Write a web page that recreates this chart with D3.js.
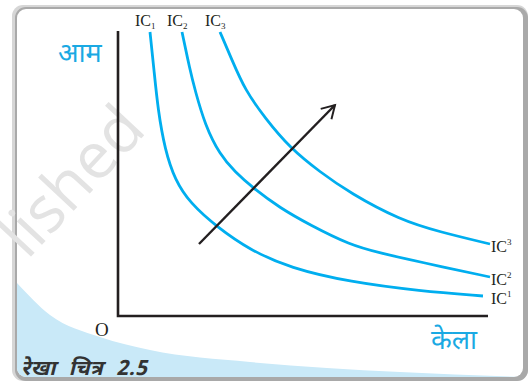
<!DOCTYPE html>
<html><head><meta charset="utf-8">
<script src="https://cdn.jsdelivr.net/npm/d3@7"></script>
<style>body{margin:0;background:#fff}svg{display:block}</style>
</head><body>
<svg id="c" width="531" height="382"></svg>
<script>
// Indifference curves (x = केला units, y = आम units)
const ic1 = [[32,284],[36,246],[40,206],[47,166],[57,136],[72,113],[99,89],[132,66],[172,48],[232,34],[302,25],[365,20]];
const ic2 = [[64,284],[72,246],[77,226],[87,191],[102,161],[117,144],[135,128],[162,108],[192,91],[232,71],[262,63],[302,54],[372,39]];
const ic3 = [[102,284],[114,256],[127,226],[147,198],[172,168],[202,144],[232,123],[282,96],[322,84],[372,72]];
const arrowPts = [[81,72],[217,211]];
const curveNames = ["1","2","3"];
const yLabel = "आम";
const xLabel = "केला";
const originLabel = "O";
const caption = "रेखा चित्र 2.5";
const watermark = "lished";

const svg = d3.select("#c");
const x = d3.scaleLinear().domain([0,370]).range([118,488]);
const y = d3.scaleLinear().domain([0,285]).range([316,31]);

const defs = svg.append("defs");
defs.append("clipPath").attr("id","inner")
  .append("rect").attr("x",17).attr("y",9).attr("width",506).attr("height",368).attr("rx",9);
defs.append("marker").attr("id","ah").attr("viewBox","0 0 12 12").attr("refX",10).attr("refY",6)
  .attr("markerWidth",7.5).attr("markerHeight",7.5).attr("orient","auto").attr("markerUnits","strokeWidth")
  .append("path").attr("d","M1.5,1 L10,6 L1.5,11").attr("fill","none").attr("stroke","#231f20").attr("stroke-width",1.3);

// frame
svg.append("rect").attr("x",12).attr("y",5).attr("width",516).attr("height",376).attr("rx",11).attr("fill","#d6d6d6");
svg.append("rect").attr("x",15).attr("y",7).attr("width",513).attr("height",374).attr("rx",11).attr("fill","#a9a9a9");
svg.append("rect").attr("x",17).attr("y",9).attr("width",506).attr("height",368).attr("rx",9).attr("fill","#fff");

// light blue corner
const g = svg.append("g").attr("clip-path","url(#inner)");
const bluePts = [[17,283],[50,315],[100,337],[150,350],[250,362],[400,372],[523,377]];
g.append("path")
  .attr("d", d3.line().curve(d3.curveMonotoneX)(bluePts) + " L523,390 L10,390 Z")
  .attr("fill","#c9e9f8");

// watermark
svg.append("text").attr("transform","translate(148,131) rotate(-47)")
  .attr("text-anchor","end").attr("font-family","'Open Sans', Lato, sans-serif")
  .attr("font-size",64).attr("fill","#e3e3e3").text(watermark);

// curves
const line = d3.line().x(d=>x(d[0])).y(d=>y(d[1])).curve(d3.curveBasis);
[ic1,ic2,ic3].forEach(c=>{
  svg.append("path").attr("d",line(c)).attr("fill","none").attr("stroke","#00aeef").attr("stroke-width",2.8);
});

// axes
svg.append("path").attr("d",`M${x(0)},${y(285)} L${x(0)},${y(0)} L${x(370)},${y(0)}`)
  .attr("fill","none").attr("stroke","#231f20").attr("stroke-width",2.6);

// arrow
svg.append("line").attr("x1",x(arrowPts[0][0])).attr("y1",y(arrowPts[0][1]))
  .attr("x2",x(arrowPts[1][0])).attr("y2",y(arrowPts[1][1]))
  .attr("stroke","#231f20").attr("stroke-width",2.4).attr("marker-end","url(#ah)");

// IC labels (top)
const serif = "'Liberation Serif','DejaVu Serif',serif";
[ic1,ic2,ic3].forEach((c,i)=>{
  const t = svg.append("text").attr("x",x(c[0][0])-15).attr("y",26)
    .attr("font-family",serif).attr("font-size",16).attr("fill","#231f20");
  t.append("tspan").text("IC");
  t.append("tspan").attr("font-size",9).attr("dy",3).text(curveNames[i]);
});
// IC labels (right)
[ic1,ic2,ic3].forEach((c,i)=>{
  const last = c[c.length-1];
  const t = svg.append("text").attr("x",491).attr("y",y(last[1])+8)
    .attr("font-family",serif).attr("font-size",16).attr("fill","#231f20");
  t.append("tspan").text("IC");
  t.append("tspan").attr("font-size",9).attr("dy",-7).text(curveNames[i]);
});

const dev = "'Noto Sans Devanagari','Lohit Devanagari','Noto Sans',sans-serif";
svg.append("text").attr("x",58).attr("y",62).attr("font-family",dev).attr("font-size",27)
  .attr("fill","#1aa9e3").text(yLabel);
svg.append("text").attr("x",431).attr("y",349).attr("font-family",dev).attr("font-size",27)
  .attr("fill","#1aa9e3").text(xLabel);
svg.append("text").attr("x",95).attr("y",336).attr("font-family",serif).attr("font-size",19)
  .attr("fill","#231f20").text(originLabel);
svg.append("text").attr("x",21).attr("y",375).attr("font-family",dev).attr("font-size",21)
  .attr("word-spacing",7).attr("letter-spacing",0.5)
  .attr("font-weight","bold").attr("font-style","italic").attr("fill","#333").text(caption);
</script>
</body></html>
